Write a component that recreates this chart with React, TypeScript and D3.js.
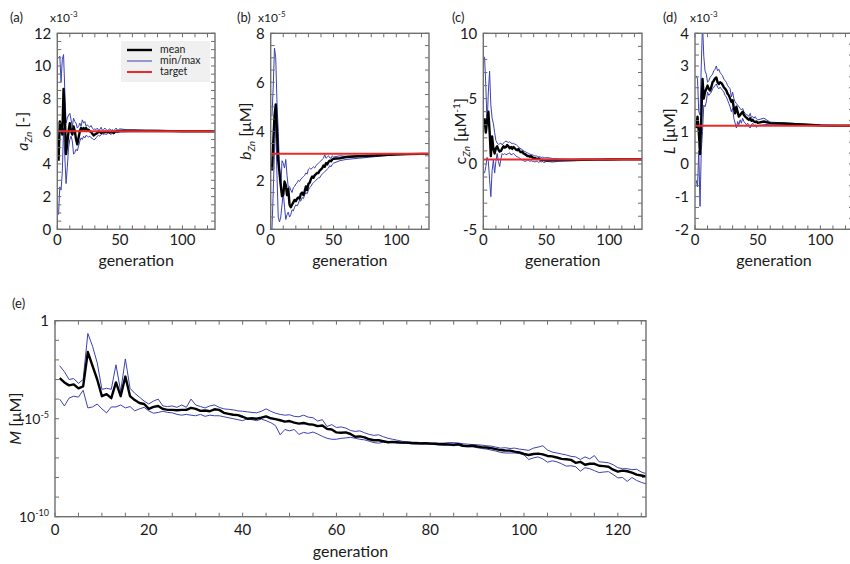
import React from 'react';
import * as d3 from 'd3';

// ---------- data ----------
const GEN_S = [1, 2, 3, 4, 5, 6, 7, 8, 9, 10, 11, 12, 13, 14, 15, 16, 17, 18, 19, 20,
  21, 22, 23, 24, 25, 26, 27, 28, 29, 30, 31, 32, 33, 34, 35, 36, 37, 38, 39, 40,
  41, 42, 43, 44, 45, 46, 47, 48, 49, 50, 55, 60, 70, 80, 90, 100, 110, 120, 126];

// (a) a_Zn  [x1e-3]
const A_MEAN = [4.2, 6.6, 6.2, 5.8, 8.6, 7.0, 4.6, 5.3, 6.0, 6.5, 6.0, 5.8, 6.3, 6.0, 5.5, 5.2, 5.6, 6.0, 6.2, 6.1,
  6.2, 6.1, 6.2, 6.05, 6.1, 6.0, 5.95, 5.85, 5.75, 5.8, 5.85, 5.9, 6.0, 5.95, 5.9, 5.95, 5.92, 5.98, 5.95, 5.95,
  5.97, 5.93, 5.95, 5.98, 5.9, 5.95, 6.0, 6.02, 6.0, 6.02, 6.02, 6.03, 6.02, 6.02, 6.01, 6.0, 6.0, 6.0, 6.0];
const A_MAX = [10.5, 10.6, 9.0, 10.4, 10.7, 8.5, 6.5, 6.8, 7.0, 7.1, 6.7, 6.3, 6.8, 6.6, 6.5, 6.2, 6.3, 6.5, 6.3, 6.7,
  6.5, 6.6, 6.3, 6.4, 6.3, 6.25, 6.35, 6.2, 6.1, 6.15, 6.1, 6.2, 6.05, 6.1, 6.25, 6.05, 6.1, 6.2, 6.1, 6.05,
  6.1, 6.15, 6.05, 6.1, 6.05, 6.1, 6.2, 6.05, 6.1, 6.15, 6.1, 6.08, 6.07, 6.06, 6.05, 6.03, 6.02, 6.01, 6.0];
const A_MIN = [0.9, 2.6, 2.4, 3.5, 6.2, 4.5, 2.8, 3.8, 5.0, 5.5, 5.7, 5.4, 4.6, 4.7, 4.9, 4.8, 5.1, 5.4, 5.6, 5.5,
  5.7, 5.6, 5.75, 5.7, 5.65, 5.7, 5.6, 5.55, 5.5, 5.5, 5.6, 5.7, 5.75, 5.7, 5.8, 5.85, 5.8, 5.85, 5.8, 5.85,
  5.9, 5.85, 5.8, 5.9, 5.85, 5.9, 5.95, 5.92, 5.95, 5.97, 5.98, 6.0, 6.0, 6.0, 6.0, 6.0, 6.0, 6.0, 6.0];
const A_TARGET = 6.0;

// (b) b_Zn  [x1e-5 uM]
const B_MEAN = [2.4, 3.5, 4.6, 5.1, 4.0, 2.8, 2.3, 1.8, 1.35, 1.4, 1.95, 1.8, 1.4, 1.65, 1.0, 0.9, 1.0, 1.1, 1.2, 1.15,
  1.25, 1.3, 1.25, 1.45, 1.5, 1.4, 1.55, 1.75, 1.6, 1.85, 1.9, 2.05, 2.15, 2.1, 2.2, 2.25, 2.3, 2.3, 2.4, 2.45,
  2.5, 2.6, 2.55, 2.7, 2.65, 2.75, 2.8, 2.78, 2.85, 2.88, 2.9, 2.95, 2.98, 3.0, 3.03, 3.06, 3.07, 3.08, 3.08];
const B_MAX = [4.6, 5.8, 7.4, 7.0, 5.2, 4.0, 2.5, 1.6, 2.8, 2.7, 2.5, 2.85, 2.2, 1.7, 1.75, 1.6, 1.5, 1.7, 1.75, 1.85,
  1.9, 2.0, 1.95, 2.05, 2.1, 2.15, 2.2, 2.3, 2.25, 2.45, 2.5, 2.45, 2.5, 2.55, 2.5, 2.6, 2.65, 2.7, 2.75, 2.8,
  2.85, 2.9, 3.05, 2.9, 2.95, 3.0, 2.92, 2.9, 3.0, 2.95, 3.0, 2.98, 3.0, 3.02, 3.04, 3.06, 3.07, 3.08, 3.08];
const B_MIN = [0.0, 1.5, 3.2, 4.3, 2.2, 0.5, 0.3, 0.5, 1.0, 1.5, 0.9, 0.4, 0.6, 0.7, 0.5, 0.6, 0.8, 0.75, 0.9, 1.0,
  0.95, 1.05, 1.2, 1.15, 1.3, 1.25, 1.4, 1.5, 1.45, 1.6, 1.7, 1.75, 1.85, 1.9, 1.95, 2.0, 2.05, 2.1, 2.1, 2.2,
  2.25, 2.3, 2.35, 2.4, 2.45, 2.5, 2.6, 2.55, 2.65, 2.7, 2.8, 2.85, 2.9, 2.95, 3.0, 3.03, 3.06, 3.08, 3.08];
const B_TARGET = 3.08;

// (c) c_Zn  [uM^-1]
const C_MEAN = [3.5, 2.4, 3.3, 4.0, 2.5, 0.6, 2.1, 1.2, 0.8, 1.2, 1.35, 1.1, 0.95, 1.0, 1.2, 1.35, 1.25, 1.3, 1.45, 1.35,
  1.2, 1.3, 1.15, 1.3, 1.2, 1.1, 1.05, 1.15, 0.95, 0.9, 0.95, 0.8, 0.75, 0.7, 0.6, 0.62, 0.55, 0.6, 0.5, 0.45,
  0.45, 0.4, 0.38, 0.42, 0.35, 0.3, 0.32, 0.3, 0.28, 0.3, 0.28, 0.3, 0.3, 0.32, 0.33, 0.34, 0.35, 0.35, 0.35];
const C_MAX = [8.2, 6.0, 3.0, 5.5, 7.1, 4.5, 3.5, 3.1, 2.4, 1.8, 1.6, 1.5, 1.55, 1.6, 1.45, 1.6, 1.7, 1.75, 1.7, 1.65,
  1.7, 1.6, 1.55, 1.6, 1.5, 1.5, 1.4, 1.3, 1.2, 1.15, 1.1, 1.0, 0.95, 0.9, 0.85, 0.8, 0.75, 0.72, 0.7, 0.65,
  0.6, 0.62, 0.58, 0.55, 0.55, 0.5, 0.52, 0.5, 0.45, 0.5, 0.42, 0.38, 0.36, 0.36, 0.36, 0.36, 0.35, 0.35, 0.35];
const C_MIN = [-0.7, -0.2, 0.5, 0.2, -1.2, -2.5, -0.5, 0.3, -0.7, 0.2, 0.8, 0.2, -0.2, 0.4, 0.8, 0.7, 0.8, 0.7, 0.75, 0.8,
  0.85, 0.7, 0.75, 0.8, 0.7, 0.6, 0.55, 0.5, 0.45, 0.35, 0.3, 0.25, 0.2, 0.22, 0.3, 0.28, 0.2, 0.25, 0.18, 0.2,
  0.15, 0.2, 0.18, 0.12, 0.2, 0.15, 0.2, 0.1, 0.15, 0.2, 0.15, 0.2, 0.25, 0.28, 0.3, 0.32, 0.34, 0.35, 0.35];
const C_TARGET = 0.35;

// (d) L  [x1e-3 uM]
const D_MEAN = [1.1, 1.45, 1.0, 0.3, 1.4, 2.6, 2.0, 2.2, 2.3, 2.4, 2.3, 2.25, 2.35, 2.5, 2.55, 2.62, 2.65, 2.5, 2.45, 2.5,
  2.48, 2.42, 2.35, 2.3, 2.25, 2.15, 2.1, 2.0, 1.9, 1.95, 1.7, 1.55, 1.75, 1.6, 1.45, 1.5, 1.55, 1.6, 1.5, 1.45,
  1.42, 1.38, 1.35, 1.4, 1.32, 1.35, 1.3, 1.28, 1.3, 1.26, 1.3, 1.25, 1.24, 1.22, 1.2, 1.18, 1.17, 1.17, 1.17];
const D_MAX = [2.7, 2.6, 1.6, 1.5, 3.0, 4.3, 3.3, 2.85, 2.75, 2.5, 2.55, 2.65, 2.7, 2.75, 2.85, 2.9, 3.0, 2.85, 2.9, 2.8,
  2.75, 2.7, 2.6, 2.55, 2.5, 2.4, 2.35, 2.3, 2.05, 2.2, 2.0, 1.9, 1.85, 1.8, 1.75, 1.7, 1.65, 1.7, 1.6, 1.55,
  1.5, 1.5, 1.45, 1.55, 1.42, 1.45, 1.4, 1.45, 1.38, 1.35, 1.4, 1.28, 1.26, 1.24, 1.21, 1.19, 1.18, 1.17, 1.17];
const D_MIN = [-0.5, -0.7, 0.4, -1.3, 0.4, 1.0, 1.8, 1.75, 1.9, 2.2, 2.1, 2.15, 2.2, 2.3, 2.35, 2.4, 2.45, 2.35, 2.3, 2.35,
  2.3, 2.25, 2.2, 2.1, 2.05, 1.95, 1.85, 1.75, 1.6, 1.7, 1.4, 1.25, 1.1, 1.3, 1.2, 1.35, 1.25, 1.4, 1.3, 1.25,
  1.2, 1.25, 1.15, 1.1, 1.2, 1.25, 1.15, 1.2, 1.12, 1.18, 1.2, 1.22, 1.22, 1.2, 1.19, 1.17, 1.17, 1.17, 1.17];
const D_TARGET = 1.17;

// (e) M [uM], values given as log10
const GEN_E = [1, 2, 3, 4, 5, 6, 7, 8, 9, 10, 11, 12, 13, 14, 15, 16, 17, 18, 19, 20,
  21, 22, 23, 24, 25, 26, 27, 28, 29, 30, 31, 32, 33, 34, 35, 36, 37, 38, 39, 40,
  41, 42, 43, 44, 45, 46, 47, 48, 49, 50, 51, 52, 53, 54, 55, 56, 57, 58, 59, 60,
  61, 62, 63, 64, 65, 66, 67, 68, 69, 70, 71, 72, 73, 74, 75, 76, 77, 78, 79, 80,
  81, 82, 83, 84, 85, 86, 87, 88, 89, 90, 91, 92, 93, 94, 95, 96, 97, 98, 99, 100,
  101, 102, 103, 104, 105, 106, 107, 108, 109, 110, 111, 112, 113, 114, 115, 116, 117, 118, 119, 120,
  121, 122, 123, 124, 125, 126];
const M_MEAN_LOG = [-2.93, -3.15, -3.3, -3.25, -3.45, -3.35, -1.6, -2.3, -3.0, -3.85,
  -3.75, -3.95, -3.15, -3.85, -2.85, -3.85, -4.05, -4.2, -4.25, -4.5,
  -4.4, -4.35, -4.5, -4.55, -4.55, -4.57, -4.55, -4.55, -4.45, -4.5,
  -4.6, -4.58, -4.62, -4.52, -4.55, -4.7, -4.75, -4.8, -4.82, -4.9,
  -5.0, -4.98, -5.0, -4.95, -4.88, -4.98, -5.02, -5.08, -5.15, -5.12,
  -5.2, -5.25, -5.22, -5.28, -5.3, -5.38, -5.35, -5.52, -5.55, -5.7,
  -5.72, -5.7, -5.78, -5.92, -5.9, -5.95, -6.05, -6.1, -6.1, -6.15,
  -6.2, -6.18, -6.2, -6.22, -6.22, -6.24, -6.25, -6.26, -6.25, -6.27,
  -6.28, -6.3, -6.3, -6.31, -6.33, -6.3, -6.38, -6.4, -6.38, -6.42,
  -6.45, -6.47, -6.5, -6.55, -6.6, -6.62, -6.63, -6.68, -6.72, -6.8,
  -6.85, -6.8, -6.78, -6.82, -6.9, -6.92, -6.98, -7.05, -7.07, -7.1,
  -7.25, -7.2, -7.35, -7.3, -7.3, -7.4, -7.42, -7.45, -7.6, -7.7,
  -7.65, -7.68, -7.75, -7.85, -7.9, -7.95];
const M_MAX_LOG = [-2.3, -2.6, -3.0, -2.95, -3.2, -3.0, -0.65, -1.3, -2.15, -3.5,
  -3.45, -3.5, -2.25, -3.6, -1.95, -3.45, -3.7, -3.9, -4.1, -4.25,
  -4.1, -4.0, -4.35, -4.38, -4.35, -4.42, -4.3, -4.42, -4.0, -4.3,
  -4.38, -4.45, -4.35, -4.3, -4.42, -4.5, -4.52, -4.55, -4.6, -4.62,
  -4.65, -4.68, -4.7, -4.62, -4.5, -4.62, -4.72, -4.78, -4.82, -4.8,
  -4.88, -4.9, -4.82, -4.92, -4.95, -5.12, -5.05, -5.4, -5.3, -5.45,
  -5.42, -5.48, -5.6, -5.65, -5.62, -5.72, -5.8, -5.85, -5.82, -5.92,
  -6.0, -6.05, -6.1, -6.15, -6.18, -6.2, -6.2, -6.22, -6.22, -6.24,
  -6.25, -6.25, -6.24, -6.22, -6.22, -6.24, -6.28, -6.3, -6.32, -6.33,
  -6.35, -6.38, -6.4, -6.45, -6.5, -6.48, -6.52, -6.5, -6.55, -6.58,
  -6.62, -6.5, -6.45, -6.38, -6.6, -6.7, -6.75, -6.8, -6.85, -6.92,
  -6.95, -7.08, -6.95, -7.05, -6.88, -7.2, -7.22, -7.25, -7.35, -7.5,
  -7.55, -7.55, -7.6, -7.58, -7.72, -7.8];
const M_MIN_LOG = [-4.0, -4.35, -3.95, -3.85, -3.9, -3.55, -4.45, -4.4, -4.25, -4.5,
  -4.7, -4.4, -4.4, -4.3, -4.45, -4.38, -4.6, -4.5, -4.42, -4.6,
  -4.72, -4.68, -4.62, -4.68, -4.7, -4.78, -4.82, -4.78, -4.82, -4.85,
  -4.78, -4.88, -4.82, -4.85, -4.85, -4.9, -4.95, -5.0, -5.05, -5.1,
  -5.0, -5.05, -5.1, -5.02, -5.1, -5.2, -5.35, -5.82, -5.55, -5.62,
  -5.55, -5.8, -5.7, -5.75, -5.68, -5.78, -5.9, -6.0, -6.05, -6.05,
  -6.0, -5.98, -5.95, -6.0, -6.05, -6.08, -6.15, -6.22, -6.25, -6.2,
  -6.22, -6.22, -6.24, -6.25, -6.26, -6.28, -6.28, -6.3, -6.3, -6.3,
  -6.32, -6.33, -6.35, -6.36, -6.38, -6.36, -6.42, -6.43, -6.42, -6.48,
  -6.52, -6.55, -6.6, -6.65, -6.72, -6.75, -6.75, -6.75, -6.78, -6.85,
  -7.08, -7.0, -6.95, -7.05, -7.22, -7.15, -7.2, -7.3, -7.42, -7.4,
  -7.45, -7.68, -7.5, -7.55, -7.65, -7.75, -7.72, -7.7, -7.85, -8.02,
  -8.0, -8.2, -8.0, -8.15, -8.25, -8.32];

const X_LABELS_SMALL = [0, 50, 100];
const X_LABELS_E = [0, 20, 40, 60, 80, 100, 120];

// ---------- style ----------
const FONT = 'Lato, "Open Sans", "DejaVu Sans", sans-serif';
const AXIS = '#6f6f6f';
const TXT = '#1a1a1a';
const BLUE = '#3b41b3';
const RED = '#ec2a2a';

type SmallProps = {
  id: string;
  left: number; right: number; top: number; bottom: number;
  yDomain: [number, number];
  yLabels: number[];
  yMinor: number[];
  mean: number[]; max: number[]; min: number[]; target: number;
  tag: string; tagX: number;
  exp?: string; expX?: number;
  ylabel: React.ReactNode; ylabelX: number;
  legend?: boolean;
};

function SmallPanel(p: SmallProps) {
  const x = d3.scaleLinear().domain([0, 126]).range([p.left, p.right]);
  const y = d3.scaleLinear().domain(p.yDomain).range([p.bottom, p.top]);
  const line = d3.line<number>().x((_, i) => x(GEN_S[i])).y((d) => y(d));
  const xt = d3.range(0, 126, 10);
  const tl = 4;
  return (
    <g>
      <defs>
        <clipPath id={p.id}>
          <rect x={p.left} y={p.top} width={p.right - p.left} height={p.bottom - p.top} />
        </clipPath>
      </defs>
      <g clipPath={`url(#${p.id})`}>
        <path d={line(p.max) || ''} fill="none" stroke={BLUE} strokeWidth={1} />
        <path d={line(p.min) || ''} fill="none" stroke={BLUE} strokeWidth={1} />
        <path d={line(p.mean) || ''} fill="none" stroke="#000" strokeWidth={2.4} strokeLinejoin="round" />
        <line x1={p.left} x2={p.right} y1={y(p.target)} y2={y(p.target)} stroke={RED} strokeWidth={2} />
      </g>
      <rect x={p.left} y={p.top} width={p.right - p.left} height={p.bottom - p.top} fill="none" stroke={AXIS} strokeWidth={1.4} />
      {xt.map((t) => (
        <g key={'xt' + t}>
          <line x1={x(t)} x2={x(t)} y1={p.bottom} y2={p.bottom - tl} stroke={AXIS} strokeWidth={1} />
          <line x1={x(t)} x2={x(t)} y1={p.top} y2={p.top + tl} stroke={AXIS} strokeWidth={1} />
        </g>
      ))}
      {p.yMinor.map((t, i) => (
        <g key={'yt' + i}>
          <line x1={p.left} x2={p.left + tl} y1={y(t)} y2={y(t)} stroke={AXIS} strokeWidth={1} />
          <line x1={p.right} x2={p.right - tl} y1={y(t)} y2={y(t)} stroke={AXIS} strokeWidth={1} />
        </g>
      ))}
      {X_LABELS_SMALL.map((t) => (
        <text key={'xl' + t} x={x(t)} y={p.bottom + 16} textAnchor="middle" fontSize={15} fill={TXT} fontFamily={FONT}>{t}</text>
      ))}
      {p.yLabels.map((t) => (
        <text key={'yl' + t} x={p.left - 6} y={y(t)} dy="0.35em" textAnchor="end" fontSize={15} fill={TXT} fontFamily={FONT}>{t}</text>
      ))}
      <text x={(p.left + p.right) / 2} y={p.bottom + 37} textAnchor="middle" fontSize={16} fill={TXT} fontFamily={FONT}>generation</text>
      <text x={p.tagX} y={22} fontSize={13} fill={TXT} fontFamily={FONT}>{p.tag}</text>
      {p.exp && (
        <text x={p.expX} y={22} fontSize={12} fill={TXT} fontFamily={FONT}>x10<tspan dy={-5} fontSize={8}>{p.exp}</tspan></text>
      )}
      <text transform={`translate(${p.ylabelX},${(p.top + p.bottom) / 2}) rotate(-90)`} textAnchor="middle" fontSize={16} fill={TXT} fontFamily={FONT}>
        {p.ylabel}
      </text>
      {p.legend && (
        <g fontFamily={FONT} fontSize={10.5} fill={TXT}>
          <rect x={121} y={41} width={89} height={41} fill="#f0f0f0" />
          <line x1={127} x2={152} y1={50} y2={50} stroke="#000" strokeWidth={2.4} />
          <line x1={127} x2={152} y1={61} y2={61} stroke={BLUE} strokeWidth={1} />
          <line x1={127} x2={152} y1={72} y2={72} stroke={RED} strokeWidth={2} />
          <text x={160} y={50} dy="0.33em">mean</text>
          <text x={160} y={61} dy="0.33em">min/max</text>
          <text x={160} y={72} dy="0.33em">target</text>
        </g>
      )}
    </g>
  );
}

function PanelE() {
  const left = 55, right = 646, top = 320.7, bottom = 516.7;
  const x = d3.scaleLinear().domain([0, 126]).range([left, right]);
  const y = d3.scaleLog().domain([1e-10, 1]).range([bottom, top]);
  const line = d3.line<number>().x((_, i) => x(GEN_E[i])).y((d) => y(Math.pow(10, d)));
  const xt = d3.range(0, 126, 5);
  const yt = d3.range(-10, 1, 1);
  const tl = 4;
  return (
    <g>
      <defs>
        <clipPath id="clipE">
          <rect x={left} y={top} width={right - left} height={bottom - top} />
        </clipPath>
      </defs>
      <g clipPath="url(#clipE)">
        <path d={line(M_MAX_LOG) || ''} fill="none" stroke={BLUE} strokeWidth={1} />
        <path d={line(M_MIN_LOG) || ''} fill="none" stroke={BLUE} strokeWidth={1} />
        <path d={line(M_MEAN_LOG) || ''} fill="none" stroke="#000" strokeWidth={2.4} strokeLinejoin="round" />
      </g>
      <rect x={left} y={top} width={right - left} height={bottom - top} fill="none" stroke={AXIS} strokeWidth={1.4} />
      {xt.map((t) => (
        <g key={'ext' + t}>
          <line x1={x(t)} x2={x(t)} y1={bottom} y2={bottom - tl} stroke={AXIS} strokeWidth={1} />
          <line x1={x(t)} x2={x(t)} y1={top} y2={top + tl} stroke={AXIS} strokeWidth={1} />
        </g>
      ))}
      {yt.map((e) => (
        <g key={'eyt' + e}>
          <line x1={left} x2={left + tl} y1={y(Math.pow(10, e))} y2={y(Math.pow(10, e))} stroke={AXIS} strokeWidth={1} />
          <line x1={right} x2={right - tl} y1={y(Math.pow(10, e))} y2={y(Math.pow(10, e))} stroke={AXIS} strokeWidth={1} />
        </g>
      ))}
      {X_LABELS_E.map((t) => (
        <text key={'exl' + t} x={x(t)} y={bottom + 18} textAnchor="middle" fontSize={15} fill={TXT} fontFamily={FONT}>{t}</text>
      ))}
      <text x={left - 6} y={y(1)} dy="0.35em" textAnchor="end" fontSize={15} fill={TXT} fontFamily={FONT}>1</text>
      <text x={left - 6} y={y(1e-5)} dy="0.35em" textAnchor="end" fontSize={14} fill={TXT} fontFamily={FONT}>10<tspan dy={-6} fontSize={9}>-5</tspan></text>
      <text x={left - 6} y={y(1e-10)} dy="0.35em" textAnchor="end" fontSize={14} fill={TXT} fontFamily={FONT}>10<tspan dy={-6} fontSize={9}>-10</tspan></text>
      <text x={(left + right) / 2} y={bottom + 40} textAnchor="middle" fontSize={16} fill={TXT} fontFamily={FONT}>generation</text>
      <text x={12} y={308} fontSize={13} fill={TXT} fontFamily={FONT}>(e)</text>
      <text transform={`translate(21,${(top + bottom) / 2}) rotate(-90)`} textAnchor="middle" fontSize={16} fill={TXT} fontFamily={FONT}>
        <tspan fontStyle="italic">M</tspan> [μM]
      </text>
    </g>
  );
}

const sub = (s: string) => (
  <>
    <tspan dy={4} fontSize={10} fontStyle="italic">{s}</tspan>
    <tspan dy={-4}> </tspan>
  </>
);

export default function App() {
  const top = 33.3, bottom = 229.3;
  return (
    <svg width={850} height={564} style={{ position: 'absolute', left: 0, top: 0, background: '#fff' }}>
      <rect x={0} y={0} width={850} height={564} fill="#fff" />
      <SmallPanel id="clipA" left={57.3} right={215} top={top} bottom={bottom}
        yDomain={[0, 12]} yLabels={[0, 2, 4, 6, 8, 10, 12]} yMinor={d3.range(0, 12.01, 0.5)}
        mean={A_MEAN} max={A_MAX} min={A_MIN} target={A_TARGET}
        tag="(a)" tagX={10} exp="-3" expX={50}
        ylabel={<><tspan fontStyle="italic">a</tspan>{sub('Zn')}<tspan>[-]</tspan></>} ylabelX={28}
        legend />
      <SmallPanel id="clipB" left={270.7} right={429} top={top} bottom={bottom}
        yDomain={[0, 8]} yLabels={[0, 2, 4, 6, 8]} yMinor={d3.range(0, 8.01, 0.5)}
        mean={B_MEAN} max={B_MAX} min={B_MIN} target={B_TARGET}
        tag="(b)" tagX={237} exp="-5" expX={258}
        ylabel={<><tspan fontStyle="italic">b</tspan>{sub('Zn')}<tspan>[μM]</tspan></>} ylabelX={251} />
      <SmallPanel id="clipC" left={483.3} right={642} top={top} bottom={bottom}
        yDomain={[-5, 10]} yLabels={[-5, 0, 5, 10]} yMinor={d3.range(-5, 10.01, 1)}
        mean={C_MEAN} max={C_MAX} min={C_MIN} target={C_TARGET}
        tag="(c)" tagX={452}
        ylabel={<><tspan>c</tspan>{sub('Zn')}<tspan>[μM</tspan><tspan dy={-6} fontSize={10}>-1</tspan><tspan dy={6}>]</tspan></>} ylabelX={466} />
      <SmallPanel id="clipD" left={695} right={853} top={top} bottom={bottom}
        yDomain={[-2, 4]} yLabels={[-2, -1, 0, 1, 2, 3, 4]} yMinor={d3.range(0, 19).map((i) => -2 + i / 3)}
        mean={D_MEAN} max={D_MAX} min={D_MIN} target={D_TARGET}
        tag="(d)" tagX={663} exp="-3" expX={690}
        ylabel={<><tspan fontStyle="italic">L</tspan><tspan> [μM]</tspan></>} ylabelX={675} />
      <PanelE />
    </svg>
  );
}
